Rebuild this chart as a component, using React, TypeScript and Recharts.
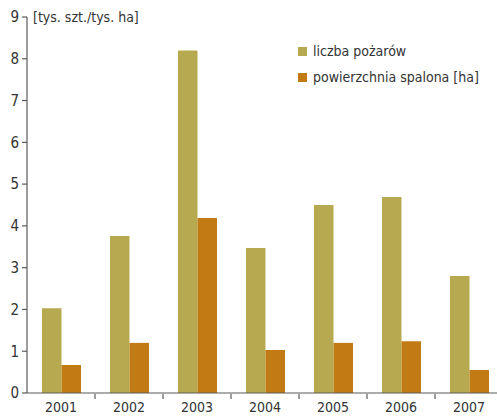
import { BarChart, Bar, XAxis, YAxis } from "recharts";

const years = ["2001", "2002", "2003", "2004", "2005", "2006", "2007"];
const fires = [2.03, 3.76, 8.2, 3.47, 4.5, 4.69, 2.8];
const burntArea = [0.67, 1.2, 4.19, 1.03, 1.2, 1.24, 0.55];
const yTicks = [0, 1, 2, 3, 4, 5, 6, 7, 8, 9];

const FONT = "'Liberation Sans Narrow', 'DejaVu Sans Condensed', 'Roboto', sans-serif";
const OLIVE = "#b7a94f";
const ORANGE = "#c27a15";
const AXIS = "#5a5a5a";
const TEXT = "#333333";
const HALF_BAND = 34;

const data = years.map((year, i) => ({
  year,
  fires: fires[i],
  area: burntArea[i],
}));

function YearTick(props: any) {
  const { x, y, payload, index } = props;
  return (
    <g>
      <text x={x} y={y + 11} textAnchor="middle" fill={TEXT} fontSize={14} fontFamily={FONT}>
        {payload.value}
      </text>
      {index < years.length - 1 && (
        <line x1={x + HALF_BAND} x2={x + HALF_BAND} y1={y - 7} y2={y - 2} stroke={AXIS} strokeWidth={1.2} />
      )}
    </g>
  );
}

export default function App() {
  return (
    <div style={{ position: "absolute", left: 0, top: 0, width: 497, height: 416, overflow: "hidden", background: "#fff" }}>
      <BarChart
        width={503}
        height={416}
        data={data}
        margin={{ top: 17, right: 0, left: 0, bottom: 0 }}
        barGap={0}
        barSize={19.5}
      >
        <XAxis
          dataKey="year"
          height={23}
          stroke={AXIS}
          strokeWidth={1.2}
          tickLine={false}
          tick={<YearTick />}
          interval={0}
        />
        <YAxis
          width={27}
          domain={[0, 9]}
          ticks={yTicks}
          interval={0}
          stroke={AXIS}
          strokeWidth={1.2}
          tickSize={5}
          tickMargin={3}
          tick={{ fill: TEXT, fontSize: 15, fontFamily: FONT }}
        />
        <Bar dataKey="fires" fill={OLIVE} isAnimationActive={false} />
        <Bar dataKey="area" fill={ORANGE} isAnimationActive={false} />
        <text x={33} y={22} fill={TEXT} fontSize={14} fontFamily={FONT}>
          [tys. szt./tys. ha]
        </text>
        <rect x={298} y={47} width={9} height={9} fill={OLIVE} />
        <text x={313} y={56} fill={TEXT} fontSize={14} fontFamily={FONT}>
          liczba pożarów
        </text>
        <rect x={298} y={73} width={9} height={9} fill={ORANGE} />
        <text x={313} y={82} fill={TEXT} fontSize={14} fontFamily={FONT}>
          powierzchnia spalona [ha]
        </text>
      </BarChart>
    </div>
  );
}
